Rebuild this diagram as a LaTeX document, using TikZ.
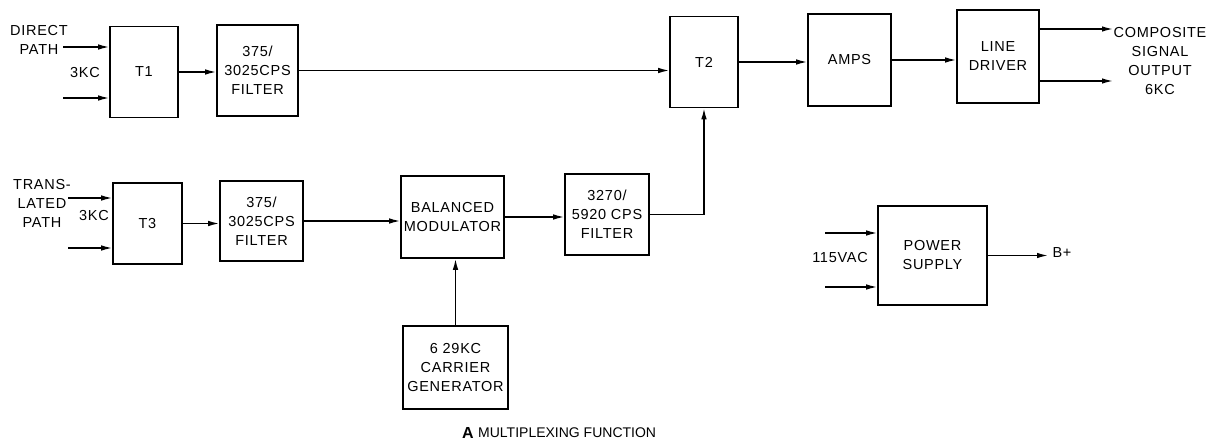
\documentclass[tikz,border=0pt]{standalone}
\usepackage{fontspec}
\setmainfont{Liberation Sans}
\newfontfamily\lbl[LetterSpace=5]{Liberation Sans}
\usetikzlibrary{arrows.meta}
\tikzset{
  blk/.style={draw, line width=1.6pt, align=center, inner sep=0pt,
    font=\lbl\fontsize{14.5}{19}\selectfont},
  txt/.style={align=center, inner sep=0pt, font=\lbl\fontsize{14.5}{19}\selectfont},
  sig/.style={line width=1.4pt, -{Latex[length=11pt,width=5.5pt]}},
  wire/.style={line width=1.4pt}
}
\begin{document}
\begin{tikzpicture}[x=1pt,y=-1pt]
\useasboundingbox (0,0) rectangle (1210,444);
% blocks
\node[blk, minimum width=68pt, minimum height=91pt] (T1) at (144,72) {T1};
\node[blk, minimum width=81pt, minimum height=91pt] (F1) at (257.5,70.5) {375/\\3025CPS\\FILTER};
\node[blk, minimum width=68pt, minimum height=91pt] (T2) at (704,62) {T2};
\node[blk, minimum width=83pt, minimum height=92pt] (AMP) at (849.5,60) {AMPS};
\node[blk, minimum width=82pt, minimum height=93pt] (LD) at (998,56.5) {LINE\\DRIVER};
\node[blk, minimum width=69pt, minimum height=81pt] (T3) at (147.5,223.5) {T3};
\node[blk, minimum width=83pt, minimum height=80pt] (F2) at (261.5,221) {375/\\3025CPS\\FILTER};
\node[blk, minimum width=103pt, minimum height=82pt] (BM) at (452.5,217) {BALANCED\\MODULATOR};
\node[blk, minimum width=84pt, minimum height=81pt] (F3) at (607,214.5) {3270/\\5920 CPS\\FILTER};
\node[blk, minimum width=105pt, minimum height=83pt] (CG) at (455.5,367.5) {6 29KC\\CARRIER\\GENERATOR};
\node[blk, minimum width=109pt, minimum height=99pt] (PS) at (932.5,255.5) {POWER\\SUPPLY};
% labels
\node[txt] (ldp) at (39,40) {DIRECT\\PATH};
\node[txt] (l3a) at (85,73) {3KC};
\node[txt] (ltp) at (42,203.5) {TRANS-\\LATED\\PATH};
\node[txt] (l3b) at (94,216) {3KC};
\node[txt] (lout) at (1160,61) {COMPOSITE\\SIGNAL\\OUTPUT\\6KC};
\node[txt] (lac) at (840,258) {115VAC};
\node[txt] (lb) at (1062,253) {B+};
\node[inner sep=0pt, anchor=west, font=\bfseries\fontsize{16}{18}\selectfont] (capA) at (462,433) {A};
\node[inner sep=0pt, anchor=west, font=\fontsize{14}{16}\selectfont] (cap) at (478,433) {MULTIPLEXING FUNCTION};
% free ends
\coordinate (i1) at (63,47);
\coordinate (i2) at (63,98);
\coordinate (i3) at (68,198);
\coordinate (i4) at (68,248);
\coordinate (o1) at (1113,29);
\coordinate (o2) at (1113,81);
\coordinate (p1) at (825,233);
\coordinate (p2) at (825,287);
\coordinate (pb) at (1048,253);
% connectors
\draw[sig] (i1) -- (i1 -| T1.west);
\draw[sig] (i2) -- (i2 -| T1.west);
\draw[sig] (T1.east) -- (T1.east -| F1.west);
\draw[sig] (F1.east) -- (F1.east -| T2.west);
\draw[sig] (T2.east) -- (T2.east -| AMP.west);
\draw[sig] (AMP.east) -- (AMP.east -| LD.west);
\draw[sig] (o1 -| LD.east) -- (o1);
\draw[sig] (o2 -| LD.east) -- (o2);
\draw[sig] (i3) -- (i3 -| T3.west);
\draw[sig] (i4) -- (i4 -| T3.west);
\draw[sig] (T3.east) -- (T3.east -| F2.west);
\draw[sig] (F2.east) -- (F2.east -| BM.west);
\draw[sig] (BM.east) -- (BM.east -| F3.west);
\draw[sig] (F3.east) -| (T2.south);
\draw[sig] (CG.north) -- (CG.north |- BM.south);
\draw[sig] (p1) -- (p1 -| PS.west);
\draw[sig] (p2) -- (p2 -| PS.west);
\draw[sig] (PS.east) -- (PS.east -| pb);
\end{tikzpicture}
\end{document}
